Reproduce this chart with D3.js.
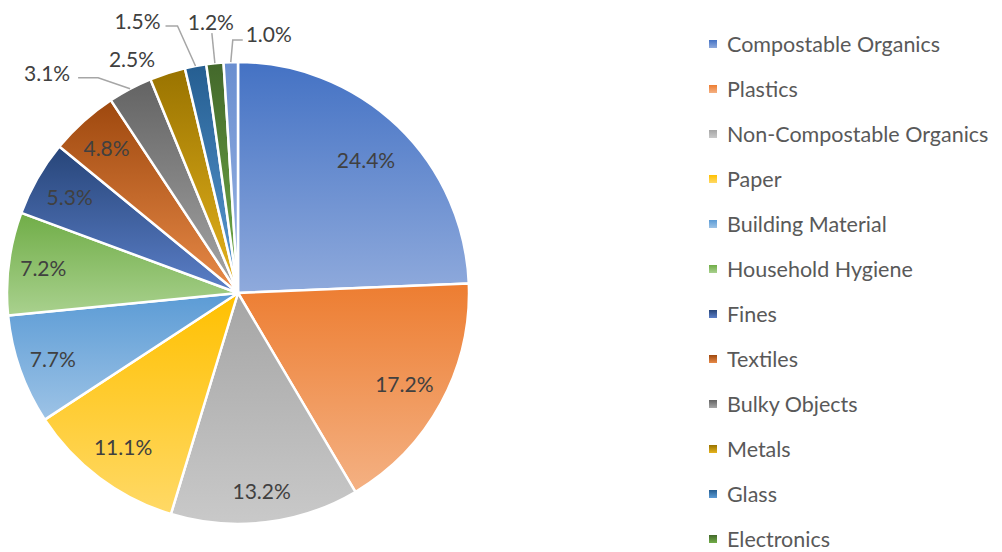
<!DOCTYPE html>
<html><head><meta charset="utf-8">
<script src="https://cdn.jsdelivr.net/npm/d3@7"></script>
<style>html,body{margin:0;padding:0;background:#fff;overflow:hidden}</style>
</head><body>
<svg id="chart" width="1002" height="552"></svg>
<script>
const categories = ["Compostable Organics","Plastics","Non-Compostable Organics","Paper","Building Material","Household Hygiene","Fines","Textiles","Bulky Objects","Metals","Glass","Electronics","Other"];
const values = [24.4,17.2,13.2,11.1,7.7,7.2,5.3,4.8,3.1,2.5,1.5,1.2,1.0];
const topColors = ["#4472C4","#ED7D31","#A5A5A5","#FFC000","#5B9BD5","#70AD47","#274579","#9E480E","#636363","#997300","#255E91","#43682B","#698ED0"];
const bottomColors = ["#8FAADC","#F4B183","#C9C9C9","#FFD966","#9DC3E6","#A9D18E","#5B7FC8","#E88A48","#A6A6A6","#E6B41E","#5B9BD5","#72AE48","#9DB6E3"];
// label radius factor for inner labels
const labelRadius = [0.80,0.82,0.86,0.83,0.85,0.85,0.84,0.85];
// callouts for small slices: [index, elbowDx, elbowDy, endDx, endDy, labelDx, labelDy] relative to slice edge point
const callouts = [
  [8, -32, -11, -52, -11, -83, -16],
  [9, null, null, null, null, 0, 0],
  [10, -18, -40, -30, -40, -58, -45],
  [11, -3, -30, -3, -30, -4, -42],
  [12, 2, -22, 12, -22, 38, -29]
];
const outerLabel25 = [132, 58];

const svg = d3.select("#chart");
const cx = 238, cy = 293, R = 231;
const g = svg.append("g").attr("transform", `translate(${cx},${cy})`);
const defs = svg.append("defs");

const pie = d3.pie().sort(null).value(d => d)(values);
const arc = d3.arc().innerRadius(0).outerRadius(R);

pie.forEach((p, i) => {
  const grad = defs.append("linearGradient").attr("id", "grad" + i)
    .attr("x1", 0).attr("y1", 0).attr("x2", 0).attr("y2", 1);
  grad.append("stop").attr("offset", "0%").attr("stop-color", topColors[i]);
  grad.append("stop").attr("offset", "100%").attr("stop-color", bottomColors[i]);
});

g.selectAll("path.slice").data(pie).join("path")
  .attr("class", "slice")
  .attr("d", arc)
  .attr("fill", (d, i) => `url(#grad${i})`)
  .attr("stroke", "#fff")
  .attr("stroke-width", 2.5)
  .attr("stroke-linejoin", "round");

const fmt = v => v.toFixed(1) + "%";
const labelFont = "Lato, 'Open Sans', sans-serif";
const mid = d => (d.startAngle + d.endAngle) / 2;

// inner labels
const inner = pie.slice(0, 8);
g.selectAll("text.inlab").data(inner).join("text")
  .attr("class", "inlab")
  .attr("x", (d, i) => Math.sin(mid(d)) * R * labelRadius[i])
  .attr("y", (d, i) => -Math.cos(mid(d)) * R * labelRadius[i])
  .attr("text-anchor", "middle")
  .attr("dominant-baseline", "central")
  .attr("font-family", labelFont)
  .attr("font-size", 21)
  .attr("fill", "#404040")
  .text(d => fmt(d.data));

// outer callouts
callouts.forEach(c => {
  const d = pie[c[0]];
  const a = mid(d);
  const ex = Math.sin(a) * R, ey = -Math.cos(a) * R;
  if (c[1] !== null) {
    g.append("polyline")
      .attr("points", [[ex, ey], [ex + c[1], ey + c[2]], [ex + c[3], ey + c[4]]].map(p => p.join(",")).join(" "))
      .attr("fill", "none").attr("stroke", "#A6A6A6").attr("stroke-width", 1.5);
    g.append("text")
      .attr("x", ex + c[5]).attr("y", ey + c[6])
      .attr("text-anchor", "middle").attr("dominant-baseline", "central")
      .attr("font-family", labelFont).attr("font-size", 21).attr("fill", "#404040")
      .text(fmt(d.data));
  } else {
    svg.append("text")
      .attr("x", outerLabel25[0]).attr("y", outerLabel25[1])
      .attr("text-anchor", "middle").attr("dominant-baseline", "central")
      .attr("font-family", labelFont).attr("font-size", 21).attr("fill", "#404040")
      .text(fmt(d.data));
  }
});

// legend (13th entry falls below the visible area, as in the reference)
const legend = svg.append("g").attr("transform", "translate(709,44)");
const items = legend.selectAll("g").data(categories.slice(0, 12)).join("g")
  .attr("transform", (d, i) => `translate(0,${i * 45})`);
items.append("rect").attr("x", 0).attr("y", -4).attr("width", 8).attr("height", 8)
  .attr("fill", (d, i) => `url(#grad${i})`);
items.append("text").attr("x", 18).attr("y", 0)
  .attr("dominant-baseline", "central")
  .attr("font-family", labelFont).attr("font-size", 21.5).attr("fill", "#595959")
  .text(d => d);
</script>
</body></html>
